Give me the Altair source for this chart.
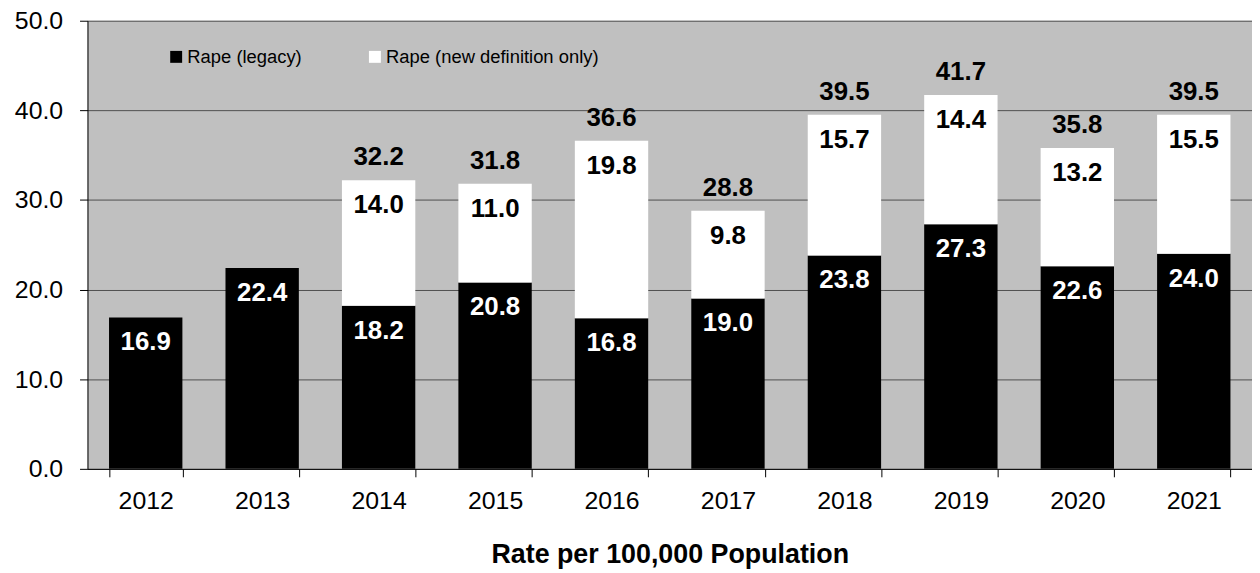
import altair as alt
import pandas as pd

years = ["2012", "2013", "2014", "2015", "2016", "2017", "2018", "2019", "2020", "2021"]
legacy = [16.9, 22.4, 18.2, 20.8, 16.8, 19.0, 23.8, 27.3, 22.6, 24.0]
new_def = [None, None, 14.0, 11.0, 19.8, 9.8, 15.7, 14.4, 13.2, 15.5]
totals = [None, None, 32.2, 31.8, 36.6, 28.8, 39.5, 41.7, 35.8, 39.5]

S1 = "Rape (legacy)"
S2 = "Rape (new definition only)"

rows = []
for y, a, b in zip(years, legacy, new_def):
    rows.append({"year": y, "series": S1, "order": 0, "lo": 0.0, "hi": a, "val": a})
    if b is not None:
        rows.append({"year": y, "series": S2, "order": 1, "lo": a, "hi": round(a + b, 1), "val": b})
df = pd.DataFrame(rows)
tot = pd.DataFrame({"year": years, "total": totals}).dropna()

FONT = "Liberation Sans"

x = alt.X("year:N", title="Rate per 100,000 Population",
          scale=alt.Scale(paddingInner=0.37, paddingOuter=0.185),
          axis=alt.Axis(labelAngle=0, tickBand="extent", grid=False, domainColor="black",
                        tickColor="black", tickSize=8, labelFontSize=25, labelPadding=12,
                        labelColor="black", titleFontSize=27, titleFontWeight="bold",
                        titleColor="black", titlePadding=28, labelFont=FONT, titleFont=FONT))

bars = alt.Chart(df).mark_bar().encode(
    x=x,
    y=alt.Y("lo:Q", title=None, scale=alt.Scale(domain=[0, 50], nice=False),
            axis=alt.Axis(values=[0, 10, 20, 30, 40, 50], format=".1f", grid=True,
                          gridColor="#505050", gridWidth=1, domainColor="black",
                          tickColor="black", tickSize=8, labelFontSize=25,
                          labelPadding=17, labelColor="black", labelFont=FONT)),
    y2="hi:Q",
    color=alt.Color("series:N", scale=alt.Scale(domain=[S1, S2], range=["black", "white"]),
                    legend=alt.Legend(title=None, orient="none", legendX=80, legendY=27,
                                      direction="horizontal", symbolType="square",
                                      symbolSize=144, symbolStrokeWidth=0,
                                      labelFontSize=18.5, labelFont=FONT, labelColor="black",
                                      labelOffset=2, columnPadding=64, labelLimit=0)),
)

seg_labels = alt.Chart(df).mark_text(dy=25, fontSize=26, fontWeight="bold", font=FONT,
                                     baseline="middle").encode(
    x="year:N",
    y="hi:Q",
    text=alt.Text("val:Q", format=".1f"),
    color=alt.Color("series:N", scale=alt.Scale(domain=[S1, S2], range=["white", "black"]),
                    legend=None),
)

tot_labels = alt.Chart(tot).mark_text(dy=-23, fontSize=26, fontWeight="bold", font=FONT,
                                      baseline="middle", color="black").encode(
    x="year:N",
    y="total:Q",
    text=alt.Text("total:Q", format=".1f"),
)

chart = alt.layer(bars, seg_labels, tot_labels).resolve_scale(color="independent").properties(
    width=1172, height=451,
    autosize=alt.AutoSizeParams(type="none"),
    padding={"left": 80, "top": 11, "right": 0, "bottom": 99},
).configure_view(fill="#c0c0c0", stroke=None)

chart.save("out.html", embed_options={"renderer": "svg", "actions": False})
